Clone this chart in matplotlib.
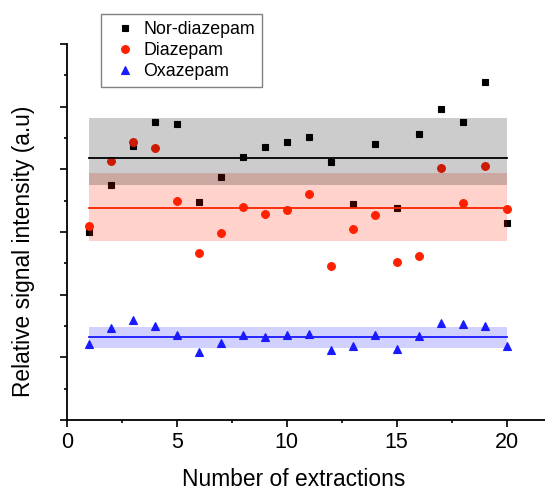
import matplotlib
matplotlib.use("Agg")
import matplotlib.pyplot as plt
from matplotlib.ticker import MultipleLocator, NullFormatter

plt.rcParams['font.family'] = ['Liberation Sans', 'DejaVu Sans']

extractions = list(range(1, 21))
nor_diazepam = [3.00, 3.75, 4.37, 4.75, 4.73, 3.48, 3.88, 4.19, 4.36, 4.44,
                4.52, 4.12, 3.45, 4.41, 3.39, 4.57, 4.96, 4.75, 5.39, 3.14]
diazepam = [3.10, 4.14, 4.43, 4.34, 3.49, 2.67, 2.98, 3.40, 3.29, 3.35,
            3.60, 2.45, 3.05, 3.27, 2.52, 2.62, 4.02, 3.47, 4.06, 3.36]
oxazepam = [1.22, 1.47, 1.60, 1.50, 1.35, 1.09, 1.23, 1.36, 1.32, 1.35,
            1.38, 1.11, 1.18, 1.35, 1.13, 1.34, 1.55, 1.53, 1.50, 1.18]

# mean lines and bands (low, high)
nor_mean, nor_band = 4.18, (3.75, 4.82)
dia_mean, dia_band = 3.39, (2.86, 3.94)
oxa_mean, oxa_band = 1.32, (1.15, 1.48)

RED = '#ff2000'
BLUE = '#1a1aff'

fig = plt.figure(figsize=(5.45, 4.91), dpi=100)
ax = fig.add_axes([66.7/545, 1-420/491, (545-66.7)/545, 376/491])

h1, = ax.plot(extractions, nor_diazepam, 's', color='black', ms=4.6, mew=0.8,
              ls='none', label='Nor-diazepam', zorder=1)
h2, = ax.plot(extractions, diazepam, 'o', color=RED, ms=5.6, mew=0.8,
              ls='none', label='Diazepam', zorder=1.1)
h3, = ax.plot(extractions, oxazepam, '^', color=BLUE, ms=6.3, mew=0.8,
              ls='none', label='Oxazepam', zorder=1.2)

xr = [extractions[0], extractions[-1]]
ax.fill_between(xr, *dia_band, color=RED, alpha=0.2, lw=0, zorder=2)
ax.fill_between(xr, *nor_band, color='black', alpha=0.2, lw=0, zorder=2)
ax.fill_between(xr, *oxa_band, color=BLUE, alpha=0.2, lw=0, zorder=2)
ax.plot(xr, [nor_mean]*2, color='black', lw=1.3, zorder=3)
ax.plot(xr, [dia_mean]*2, color=RED, lw=1.3, zorder=3)
ax.plot(xr, [oxa_mean]*2, color=BLUE, lw=1.3, zorder=3)

ax.set_xlim(0, 21.74)
ax.set_ylim(0, 6)
ax.spines['top'].set_visible(False)
ax.spines['right'].set_visible(False)
for s in ['left', 'bottom']:
    ax.spines[s].set_linewidth(1.3)

ax.xaxis.set_major_locator(MultipleLocator(5))
ax.xaxis.set_minor_locator(MultipleLocator(2.5))
ax.yaxis.set_major_locator(MultipleLocator(1))
ax.yaxis.set_minor_locator(MultipleLocator(0.5))
ax.yaxis.set_major_formatter(NullFormatter())
ax.tick_params(which='major', length=5.2, width=1.2, direction='out', labelsize=15.5, pad=3.5)
ax.tick_params(which='minor', length=2.5, width=1.2, direction='out')

ax.set_xlabel('Number of extractions', fontsize=16.4)
ax.set_ylabel('Relative signal intensity (a.u)', fontsize=16.4)
ax.xaxis.set_label_coords(0.474, -0.1285)
ax.yaxis.set_label_coords(-0.0663, 0.4476)

leg = fig.legend(handles=[h1, h2, h3], loc='upper left',
                 bbox_to_anchor=(100.7/545, 1-14/491), bbox_transform=fig.transFigure,
                 fontsize=12.8, frameon=True, fancybox=False, borderaxespad=0,
                 handlelength=2.0, handletextpad=0.0, labelspacing=0.24,
                 borderpad=0.39, framealpha=1)
leg.get_frame().set_edgecolor('#808080')
leg.get_frame().set_linewidth(1.0)

fig.savefig('out.png', dpi=100)
